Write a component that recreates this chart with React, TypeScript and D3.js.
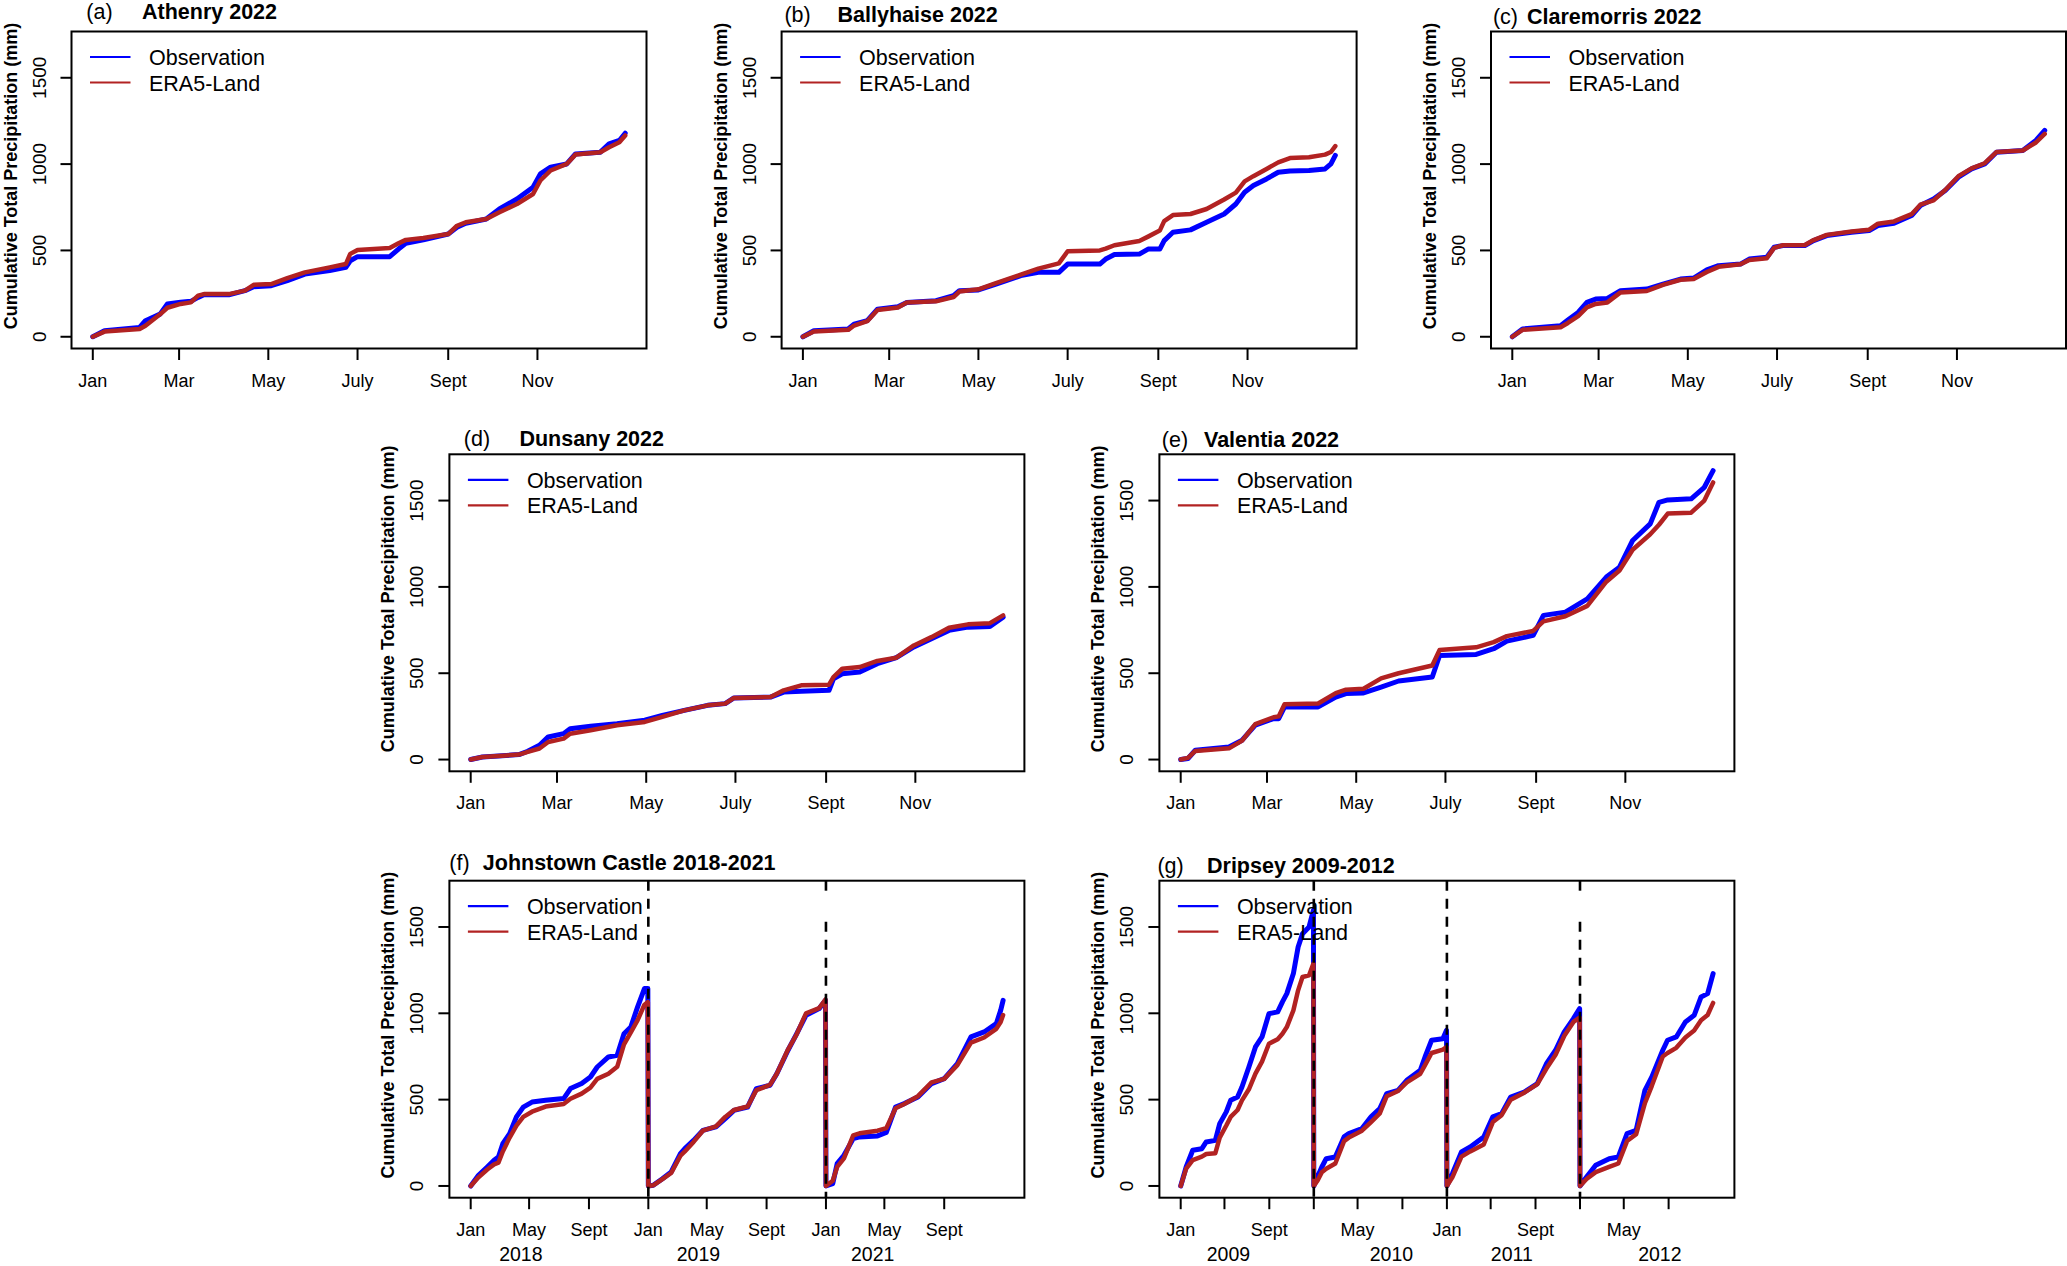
import * as d3 from "d3";

const FONT = '"Liberation Sans", Arial, Helvetica, sans-serif';
const OBS_COLOR = "#0000ff";
const ERA_COLOR = "#b22222";

const WIDTH = 2067;
const HEIGHT = 1266;
const BOX_W = 575;
const BOX_H = 317;
const Y_MAX = 1700;

const yTicks = [0, 500, 1000, 1500];
const seriesNames = ["Observation", "ERA5-Land"];

// single-year panels: tick days and labels
const monthDays = [0, 59, 120, 181, 243, 304];
const monthLabels = ["Jan", "Mar", "May", "July", "Sept", "Nov"];
// multi-year panels: ticks every four months
const seasonDays = [0, 120, 243];
const seasonLabels = ["Jan", "May", "Sept"];

// (a) Athenry 2022
const athenryDays = [0, 8, 32, 36, 46, 51, 60, 67, 72, 76, 93, 104, 110, 122, 133, 145, 162, 173, 176, 181, 203, 209, 214, 226, 243, 249, 255, 269, 278, 290, 301, 306, 313, 324, 330, 347, 353, 360, 364];
const athenryObs = [0, 35, 54, 93, 131, 190, 200, 205, 228, 243, 243, 267, 290, 296, 325, 363, 383, 402, 440, 464, 464, 508, 541, 561, 595, 634, 657, 682, 740, 798, 866, 943, 982, 1001, 1059, 1069, 1117, 1137, 1179];
const athenryEra = [0, 30, 45, 64, 130, 168, 190, 199, 238, 247, 247, 267, 301, 305, 340, 373, 402, 421, 480, 503, 514, 541, 561, 572, 595, 643, 663, 682, 721, 769, 827, 905, 963, 1001, 1055, 1069, 1098, 1127, 1166];

// (b) Ballyhaise 2022
const ballyhaiseDays = [0, 7.5, 31, 35, 44, 51, 65, 71, 91, 103, 107, 120, 132, 149, 161, 175, 181, 203, 207, 213, 230, 236, 244, 247, 253, 265, 276, 288, 296, 302, 308, 317, 325, 333, 346, 357, 361, 364];
const ballyhaiseObs = [0, 35, 45, 73, 93, 160, 174, 199, 209, 238, 267, 271, 305, 354, 373, 373, 421, 421, 450, 476, 479, 508, 508, 557, 605, 619, 663, 711, 769, 837, 876, 914, 953, 960, 963, 972, 1001, 1050];
const ballyhaiseEra = [0, 30, 40, 65, 90, 155, 170, 198, 205, 230, 262, 275, 310, 360, 395, 425, 495, 500, 510, 530, 555, 580, 615, 670, 705, 711, 740, 795, 835, 900, 930, 972, 1010, 1035, 1040, 1055, 1070, 1104];

// (c) Claremorris 2022
const claremorrisDays = [0, 7, 33, 38, 45, 51, 57, 65, 74, 92, 103, 115, 124, 133, 141, 156, 162, 174, 179, 185, 200, 206, 215, 232, 244, 250, 261, 273, 279, 288, 296, 305, 314, 323, 331, 349, 358, 364];
const claremorrisObs = [0, 45, 64, 97, 141, 199, 218, 222, 267, 276, 305, 334, 340, 387, 412, 421, 450, 460, 518, 528, 528, 557, 586, 605, 615, 644, 657, 702, 760, 798, 847, 924, 972, 1001, 1069, 1079, 1137, 1195];
const claremorrisEra = [0, 40, 55, 80, 120, 170, 190, 199, 257, 265, 300, 330, 335, 375, 405, 420, 445, 455, 515, 530, 532, 560, 590, 610, 620, 655, 668, 710, 765, 790, 850, 930, 975, 1005, 1070, 1079, 1125, 1175];

// (d) Dunsany 2022
const dunsanyDays = [0, 8, 33, 39, 47, 53, 63.5, 68, 82, 100, 119, 131, 146, 162, 174, 180, 205, 214, 226, 245, 248, 254, 266, 278, 291, 303, 315, 327, 340, 355, 364];
const dunsanyObs = [0, 15, 29, 48, 83, 131, 150, 179, 193, 208, 228, 256, 285, 314, 324, 357, 362, 391, 395, 401, 468, 497, 507, 555, 590, 652, 700, 748, 767, 771, 825];
const dunsanyEra = [0, 15, 29, 44, 64, 102, 121, 150, 170, 199, 218, 247, 285, 314, 324, 357, 362, 401, 430, 434, 478, 526, 536, 571, 590, 661, 709, 763, 783, 790, 835];

// (e) Valentia 2022
const valentiaDays = [0, 5, 10, 33, 42, 51, 63.5, 67, 71, 94, 106, 113, 125, 137, 149, 172, 177, 202, 214, 223, 241, 248, 263, 278, 291, 300, 309, 321, 327, 333, 349, 358, 364];
const valentiaObs = [0, 6, 54, 73, 112, 199, 237, 237, 305, 305, 362, 382, 386, 420, 455, 478, 603, 609, 642, 686, 719, 835, 854, 931, 1057, 1114, 1269, 1365, 1490, 1504, 1510, 1577, 1673];
const valentiaEra = [0, 10, 50, 65, 110, 205, 245, 250, 320, 325, 385, 405, 410, 470, 500, 545, 635, 650, 680, 715, 745, 800, 830, 890, 1030, 1095, 1215, 1305, 1360, 1425, 1430, 1500, 1605];

// (f) Johnstown Castle 2018, 2019, 2021 (days counted from 1 Jan of the first year shown)
const johnstownDays = [
  0, 16, 34, 48, 57, 66, 80, 94, 108, 126, 154, 191, 205, 228, 246, 260, 283, 301, 315, 329, 343, 357, 364,
  365, 375, 394, 412, 431, 440, 458, 477, 504, 523, 541, 569, 587, 615, 629, 652, 670, 689, 716, 729,
  730, 744, 753, 767, 786, 799, 836, 854, 873, 891, 919, 947, 973, 1000, 1028, 1055, 1080, 1089, 1094,
];
const johnstownObs = [
  0, 62, 110, 149, 168, 245, 303, 400, 457, 486, 496, 506, 564, 593, 631, 689, 747, 757, 882, 921, 1037, 1143, 1143,
  0, 4, 42, 81, 187, 216, 264, 322, 342, 390, 438, 457, 564, 583, 650, 786, 882, 988, 1027, 1075,
  0, 14, 129, 178, 274, 284, 290, 310, 457, 477, 515, 593, 622, 708, 863, 892, 940, 1017, 1075,
];
const johnstownEra = [
  0, 50, 95, 125, 135, 200, 280, 350, 400, 430, 460, 475, 505, 535, 570, 620, 650, 690, 820, 890, 960, 1050, 1065,
  0, 4, 40, 75, 175, 200, 255, 320, 345, 400, 440, 460, 555, 585, 650, 790, 880, 1000, 1030, 1080,
  0, 30, 110, 160, 293, 305, 320, 335, 450, 475, 520, 600, 620, 700, 830, 860, 910, 950, 990,
];
const johnstownYears = ["2018", "2019", "2021"];
const johnstownYearLabelDays = [103, 468, 826];
const johnstownBreaks = [365, 730];
const johnstownBreakTops = [null, 1530];

// (g) Dripsey 2009-2012
const dripseyDays = [
  0, 15, 33, 58, 70, 95, 107, 125, 137, 156, 168, 187, 205, 223, 242, 266, 279, 291, 309, 322, 334, 352, 364,
  365, 375, 387, 399, 424, 448, 461, 497, 522, 546, 565, 596, 620, 657, 670, 688, 719, 729,
  730, 745, 770, 794, 831, 856, 880, 905, 942, 978, 1003, 1028, 1052, 1077, 1094,
  1095, 1113, 1138, 1175, 1200, 1224, 1249, 1273, 1292, 1322, 1335, 1359, 1384, 1408, 1427, 1445, 1460,
];
const dripseyObs = [
  0, 110, 207, 216, 255, 264, 361, 429, 496, 515, 573, 689, 805, 863, 998, 1008, 1066, 1114, 1230, 1384, 1461, 1500, 1597,
  0, 52, 110, 158, 168, 284, 303, 332, 400, 448, 535, 554, 612, 670, 747, 844, 853, 902,
  0, 71, 197, 226, 284, 400, 419, 515, 544, 593, 708, 786, 892, 969, 1027,
  0, 52, 120, 158, 168, 303, 322, 554, 631, 786, 844, 863, 950, 988, 1095, 1114, 1230,
];
const dripseyEra = [
  0, 100, 150, 170, 185, 190, 280, 350, 400, 440, 496, 560, 651, 720, 824, 850, 882, 920, 1017, 1133, 1210, 1220, 1288,
  0, 30, 80, 100, 130, 260, 280, 320, 370, 420, 520, 550, 600, 650, 700, 770, 790, 805,
  0, 50, 170, 200, 240, 370, 410, 500, 540, 590, 680, 760, 870, 950, 975,
  0, 40, 80, 110, 130, 260, 300, 480, 580, 750, 770, 800, 860, 900, 960, 990, 1060,
];
const dripseyYears = ["2009", "2010", "2011", "2012"];
const dripseyYearLabelDays = [131, 578, 908, 1314];
const dripseyBreaks = [365, 730, 1095];
const dripseyBreakTops = [null, null, 1530];

type Panel = {
  letter: string;
  title: string;
  left: number;
  top: number;
  days: number[];
  obs: number[];
  era: number[];
  xMax: number;
  nYears: number;
  labelEvery: number;
  years?: string[];
  yearDays?: number[];
  breaks?: number[];
  breakTops?: (number | null)[];
  letterDx: number;
  titleDx: number;
  titleDy: number;
};

const panels: Panel[] = [
  { letter: "(a)", title: "Athenry 2022", left: 71.5, top: 31.5, days: athenryDays, obs: athenryObs, era: athenryEra, xMax: 364, nYears: 1, labelEvery: 1, letterDx: 28, titleDx: 70.5, titleDy: 12.5 },
  { letter: "(b)", title: "Ballyhaise 2022", left: 781.6, top: 31.5, days: ballyhaiseDays, obs: ballyhaiseObs, era: ballyhaiseEra, xMax: 364, nYears: 1, labelEvery: 1, letterDx: 16, titleDx: 56, titleDy: 9.5 },
  { letter: "(c)", title: "Claremorris 2022", left: 1491, top: 31.5, days: claremorrisDays, obs: claremorrisObs, era: claremorrisEra, xMax: 364, nYears: 1, labelEvery: 1, letterDx: 14.5, titleDx: 36, titleDy: 7.5 },
  { letter: "(d)", title: "Dunsany 2022", left: 449.4, top: 454.3, days: dunsanyDays, obs: dunsanyObs, era: dunsanyEra, xMax: 364, nYears: 1, labelEvery: 1, letterDx: 27.6, titleDx: 70, titleDy: 8.3 },
  { letter: "(e)", title: "Valentia 2022", left: 1159.4, top: 454.3, days: valentiaDays, obs: valentiaObs, era: valentiaEra, xMax: 364, nYears: 1, labelEvery: 1, letterDx: 15.6, titleDx: 44.6, titleDy: 7.6 },
  {
    letter: "(f)", title: "Johnstown Castle 2018-2021", left: 449.4, top: 880.7,
    days: johnstownDays, obs: johnstownObs, era: johnstownEra, xMax: 1094, nYears: 3, labelEvery: 1,
    years: johnstownYears, yearDays: johnstownYearLabelDays, breaks: johnstownBreaks, breakTops: johnstownBreakTops,
    letterDx: 10, titleDx: 33.4, titleDy: 10.7,
  },
  {
    letter: "(g)", title: "Dripsey 2009-2012", left: 1159.4, top: 880.7,
    days: dripseyDays, obs: dripseyObs, era: dripseyEra, xMax: 1460, nYears: 4, labelEvery: 2,
    years: dripseyYears, yearDays: dripseyYearLabelDays, breaks: dripseyBreaks, breakTops: dripseyBreakTops,
    letterDx: 11.2, titleDx: 47.6, titleDy: 8,
  },
];

function PanelChart({ p }: { p: Panel }) {
  const pad = (BOX_W * 0.04) / 1.08;
  const bottom = p.top + BOX_H;
  const right = p.left + BOX_W;
  const x = d3.scaleLinear().domain([0, p.xMax]).range([p.left + pad, right - pad]);
  const y = d3.scaleLinear().domain([-0.04 * Y_MAX, 1.04 * Y_MAX]).range([bottom, p.top]);

  const path = (values: number[]) =>
    d3.line<number>()
      .x((_v, i) => x(p.days[i]))
      .y((v) => y(v))(values) ?? "";

  let ticks: number[];
  let labels: string[];
  if (p.nYears === 1) {
    ticks = monthDays;
    labels = monthLabels;
  } else {
    ticks = d3.range(p.nYears).flatMap((yr) => seasonDays.map((d) => yr * 365 + d));
    labels = d3.range(p.nYears).flatMap(() => seasonLabels);
  }

  const legendY = [p.top + 25.5, p.top + 51];
  const legendColors = [OBS_COLOR, ERA_COLOR];

  return (
    <g>
      <path d={path(p.obs)} fill="none" stroke={OBS_COLOR} strokeWidth={5} strokeLinejoin="round" strokeLinecap="round" />
      <path d={path(p.era)} fill="none" stroke={ERA_COLOR} strokeWidth={4.5} strokeLinejoin="round" strokeLinecap="round" />

      {(p.breaks ?? []).map((d, i) => {
        const topVal = p.breakTops ? p.breakTops[i] : null;
        const y1 = topVal == null ? p.top : y(topVal);
        return (
          <g key={`br${i}`}>
            <line x1={x(d)} x2={x(d)} y1={y1} y2={bottom} stroke="#000" strokeWidth={2.6} strokeDasharray="10,8" />
            {topVal != null ? (
              <line x1={x(d)} x2={x(d)} y1={p.top} y2={p.top + 10} stroke="#000" strokeWidth={2.6} />
            ) : null}
          </g>
        );
      })}

      <rect x={p.left} y={p.top} width={BOX_W} height={BOX_H} fill="none" stroke="#000" strokeWidth={2} />

      {yTicks.map((v) => (
        <g key={`y${v}`}>
          <line x1={p.left - 11} x2={p.left} y1={y(v)} y2={y(v)} stroke="#000" strokeWidth={2} />
          <text
            transform={`translate(${p.left - 26},${y(v)}) rotate(-90)`}
            textAnchor="middle"
            fontSize={19}
            fontFamily={FONT}
          >
            {v}
          </text>
        </g>
      ))}

      {ticks.map((d, i) => (
        <g key={`x${i}`}>
          <line x1={x(d)} x2={x(d)} y1={bottom} y2={bottom + 11.5} stroke="#000" strokeWidth={2} />
          {i % p.labelEvery === 0 ? (
            <text x={x(d)} y={bottom + 38} textAnchor="middle" fontSize={18} fontFamily={FONT}>
              {labels[i]}
            </text>
          ) : null}
        </g>
      ))}

      {(p.years ?? []).map((yr, i) => (
        <text key={yr} x={x(p.yearDays![i])} y={bottom + 63} textAnchor="middle" fontSize={19.5} fontFamily={FONT}>
          {yr}
        </text>
      ))}

      <text
        transform={`translate(${p.left - 55},${p.top + BOX_H / 2 - 14}) rotate(-90)`}
        textAnchor="middle"
        fontSize={18}
        fontWeight="bold"
        fontFamily={FONT}
      >
        Cumulative Total Precipitation (mm)
      </text>

      {seriesNames.map((name, i) => (
        <g key={name}>
          <line x1={p.left + 18.5} x2={p.left + 59} y1={legendY[i]} y2={legendY[i]} stroke={legendColors[i]} strokeWidth={2.2} />
          <text x={p.left + 77.5} y={legendY[i] + 8} fontSize={21.5} fontFamily={FONT}>
            {name}
          </text>
        </g>
      ))}

      <text x={p.left + p.letterDx} y={p.top - p.titleDy} textAnchor="middle" fontSize={21.5} fontFamily={FONT}>
        {p.letter}
      </text>
      <text x={p.left + p.titleDx} y={p.top - p.titleDy} fontSize={21.5} fontWeight="bold" fontFamily={FONT}>
        {p.title}
      </text>
    </g>
  );
}

export default function App() {
  return (
    <svg
      width={WIDTH}
      height={HEIGHT}
      viewBox={`0 0 ${WIDTH} ${HEIGHT}`}
      style={{ position: "absolute", left: 0, top: 0, background: "#fff", display: "block" }}
    >
      <rect x={0} y={0} width={WIDTH} height={HEIGHT} fill="#fff" />
      {panels.map((p) => (
        <PanelChart key={p.letter} p={p} />
      ))}
    </svg>
  );
}
